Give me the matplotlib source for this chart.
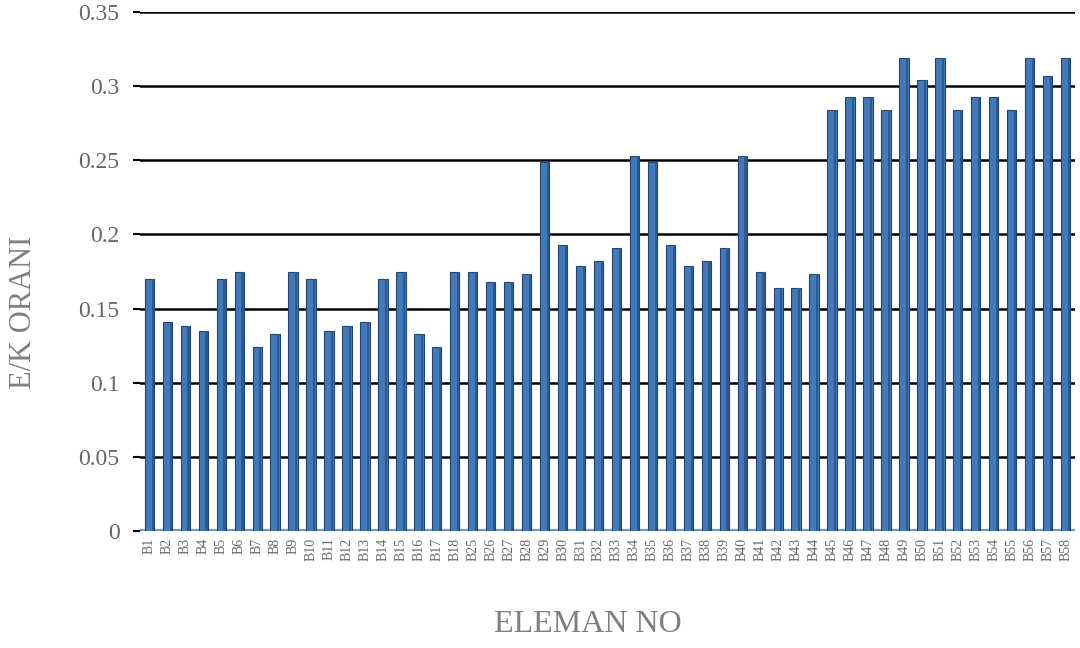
import matplotlib
matplotlib.use("Agg")
import matplotlib.pyplot as plt
import numpy as np

categories = ["B1", "B2", "B3", "B4", "B5", "B6", "B7", "B8", "B9", "B10",
              "B11", "B12", "B13", "B14", "B15", "B16", "B17", "B18",
              "B25", "B26", "B27", "B28", "B29", "B30", "B31", "B32", "B33",
              "B34", "B35", "B36", "B37", "B38", "B39", "B40", "B41", "B42",
              "B43", "B44", "B45", "B46", "B47", "B48", "B49", "B50", "B51",
              "B52", "B53", "B54", "B55", "B56", "B57", "B58"]
values = [0.170, 0.141, 0.138, 0.135, 0.170, 0.175, 0.124, 0.133, 0.175, 0.170,
          0.135, 0.138, 0.141, 0.170, 0.175, 0.133, 0.124, 0.175,
          0.175, 0.168, 0.168, 0.173, 0.249, 0.193, 0.179, 0.182, 0.191,
          0.253, 0.249, 0.193, 0.179, 0.182, 0.191, 0.253, 0.175, 0.164,
          0.164, 0.173, 0.284, 0.293, 0.293, 0.284, 0.319, 0.304, 0.319,
          0.284, 0.293, 0.293, 0.284, 0.319, 0.307, 0.319]
yticks = [0, 0.05, 0.1, 0.15, 0.2, 0.25, 0.3, 0.35]
ytick_labels = ["0", "0.05", "0.1", "0.15", "0.2", "0.25", "0.3", "0.35"]

plt.rcParams['font.family'] = ['Liberation Serif', 'DejaVu Serif']

fig = plt.figure(figsize=(10.8, 6.48), dpi=100)
ax = fig.add_axes([0.130, 0.181, 0.865, 0.800])

x = np.arange(len(categories))
ax.set_axisbelow(True)
ax.yaxis.grid(True, color='black', linewidth=1.8)
ax.bar(x, values, width=0.52, color='#4279bb', edgecolor='#24456f', linewidth=0.8, zorder=3)
# darker right-side shading to mimic 3D bars
ax.bar(x + 0.18, values, width=0.12, color='#2c5a8f', linewidth=0, zorder=4)
ax.axhline(0, color='#6f9ad0', linewidth=3, zorder=2)

ax.set_xlim(-0.5, len(categories) - 0.5)
ax.set_ylim(0, 0.35)
ax.set_yticks(yticks)
ax.set_yticklabels(ytick_labels)
ax.set_xticks(x)
ax.set_xticklabels(categories, rotation=90)
ax.tick_params(axis='y', labelsize=17, labelcolor='#666666', color='black', length=5, width=1.5, pad=10)
ax.tick_params(axis='x', labelsize=10, labelcolor='#666666', length=0, pad=5)
for s in ax.spines.values():
    s.set_visible(False)

fig.text(24 / 1080, 1 - 312 / 648, "E/K ORANI", fontsize=22, color='#7f7f7f',
         rotation=90, ha='center', va='center')
fig.text(588 / 1080, 1 - 624 / 648, "ELEMAN NO", fontsize=23, color='#7f7f7f',
         ha='center', va='center')

fig.savefig("out.png", dpi=100)
